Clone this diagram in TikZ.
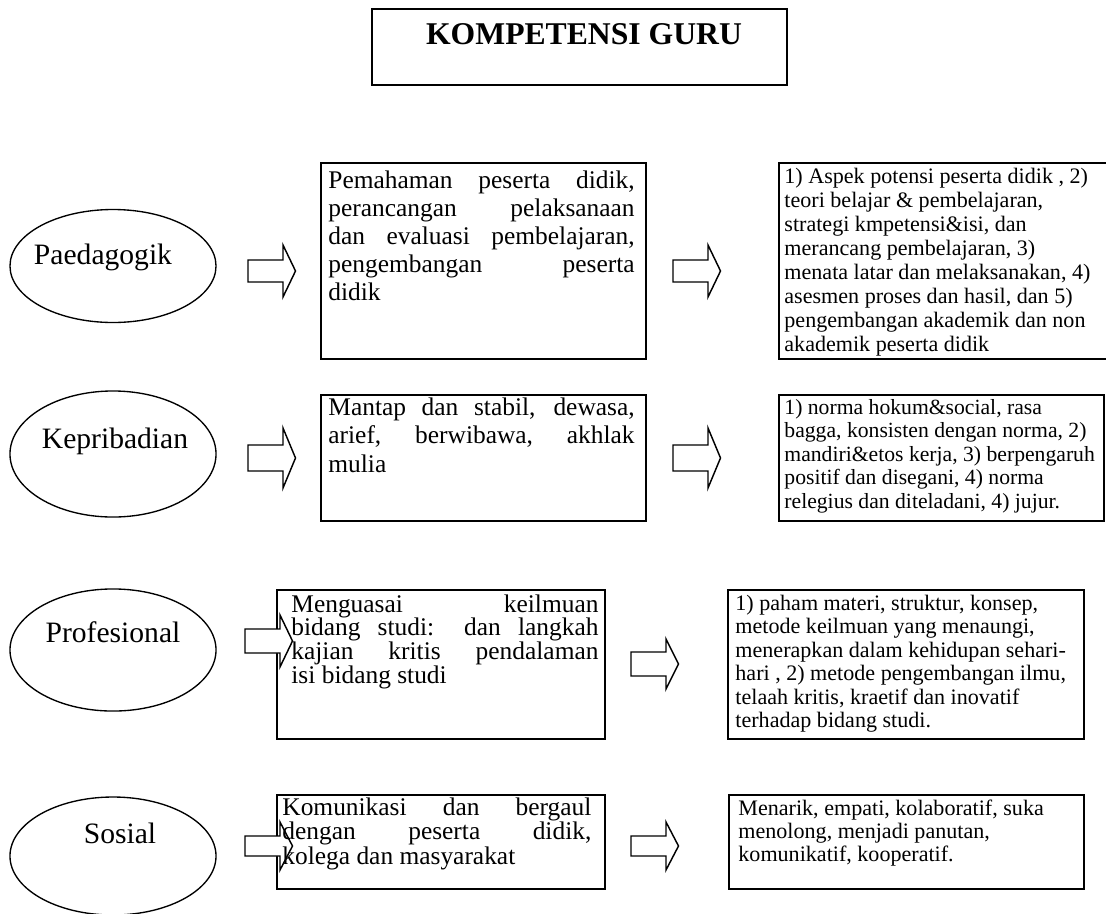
\documentclass[tikz,border=0pt]{standalone}
\usepackage{fontspec}
\setmainfont{Liberation Serif}
\usetikzlibrary{fit,shapes.geometric}

% one justified line of a text block
\newcommand{\jline}[1]{\makebox[\linewidth][s]{#1}\par}
% text block of a middle box: width, line skip, lines
\newcommand{\midblock}[3]{\parbox[t]{#1}{\fontsize{12.2}{#2}\selectfont #3}}
% text block of a right box: font size, line skip, lines
\newcommand{\sideblock}[3]{\parbox[t]{200pt}{\raggedright\fontsize{#1}{#2}\selectfont #3}}

\tikzset{
  frame/.style={draw, line width=1.15pt, inner sep=0pt},
  titleframe/.style={draw, line width=1.35pt, inner sep=0pt},
  oval/.style={draw, ellipse, line width=0.65pt, inner sep=0pt, outer sep=0pt, minimum width=98.9pt},
  ovaltext/.style={anchor=base, inner sep=0pt, font=\fontsize{14.2}{17}\selectfont},
  blocktext/.style={anchor=base west, inner sep=0pt},
  arrowline/.style={draw, fill=white, line width=0.7pt, miter limit=10},
  pics/blockarrow/.style 2 args={code={
    \draw[arrowline] (0,-#1) -- (35,-#1) -- (35,-#2) -- (47.5,0)
      -- (35,#2) -- (35,#1) -- (0,#1) -- cycle;}}
}

\begin{document}
\begin{tikzpicture}[x=0.48pt,y=-0.48pt]
\useasboundingbox (0,0) rectangle (1106,913);
\path[fill=white] (0,0) rectangle (1106,913);

% heading
\node[titleframe, fit={(372,9) (787,85)}] (title) {};
\node[anchor=base, inner sep=0pt, font=\fontsize{15.2}{18}\selectfont\bfseries]
  (titletext) at (584,44) {KOMPETENSI GURU};

% ---------- Paedagogik ----------
\node[oval, minimum height=54.24pt] (e1) at (113,266) {};
\node[ovaltext] (e1t) at (103,264) {Paedagogik};
\node[frame, fit={(321,163) (646,359)}] (m1) {};
\node[frame, fit={(779,163) (1120,359)}] (r1) {};
\pic (a1) at (248,271) {blockarrow={11}{26}};
\pic (a2) at (673,271) {blockarrow={11}{26}};
\node[blocktext] (m1t) at (328,188) {\midblock{147pt}{13.44pt}{%
  \jline{Pemahaman peserta didik,}
  \jline{perancangan pelaksanaan}
  \jline{dan evaluasi pembelajaran,}
  \jline{pengembangan peserta}
  didik}};
\node[blocktext] (r1t) at (784,183) {\sideblock{10.6}{11.52pt}{%
  1) Aspek potensi peserta didik , 2)\\
  teori belajar \& pembelajaran,\\
  strategi kmpetensi\&isi, dan\\
  merancang pembelajaran, 3)\\
  menata latar dan melaksanakan, 4)\\
  asesmen proses dan hasil, dan 5)\\
  pengembangan akademik dan non\\
  akademik peserta didik}};

% ---------- Kepribadian ----------
\node[oval, minimum height=60.5pt] (e2) at (113,454) {};
\node[ovaltext] (e2t) at (115,448) {Kepribadian};
\node[frame, fit={(321,395) (646,521)}] (m2) {};
\node[frame, fit={(779,395) (1104,521)}] (r2) {};
\pic (a3) at (248,458) {blockarrow={13}{30}};
\pic (a4) at (673,458) {blockarrow={13}{30}};
\node[blocktext] (m2t) at (328,415) {\midblock{147pt}{13.68pt}{%
  \jline{Mantap dan stabil, dewasa,}
  \jline{arief, berwibawa, akhlak}
  mulia}};
\node[blocktext] (r2t) at (784,414) {\sideblock{10.4}{11.28pt}{%
  1) norma hokum\&social, rasa\\
  bagga, konsisten dengan norma, 2)\\
  mandiri\&etos kerja, 3) berpengaruh\\
  positif dan disegani, 4) norma\\
  relegius dan diteladani, 4) jujur.}};

% ---------- Profesional ----------
\node[oval, minimum height=58.6pt] (e3) at (113,650) {};
\node[ovaltext] (e3t) at (113,642) {Profesional};
\node[frame, fit={(277,590) (605,739)}] (m3) {};
\node[frame, fit={(728,590) (1084,739)}] (r3) {};
\pic (a5) at (245,641) {blockarrow={12}{26}};
\pic (a6) at (631,664) {blockarrow={12}{25}};
\node[blocktext] (m3t) at (291,612) {\midblock{147.4pt}{11.4pt}{%
  \jline{Menguasai keilmuan}
  \jline{bidang studi: dan langkah}
  \jline{kajian kritis pendalaman}
  isi bidang studi}};
\node[blocktext] (r3t) at (735,610) {\sideblock{10.6}{11.28pt}{%
  1) paham materi, struktur, konsep,\\
  metode keilmuan yang menaungi,\\
  menerapkan dalam kehidupan sehari-\\
  hari , 2) metode pengembangan ilmu,\\
  telaah kritis, kraetif dan inovatif\\
  terhadap bidang studi.}};

% ---------- Sosial ----------
\node[oval, minimum height=56.64pt] (e4) at (113,856) {};
\node[ovaltext] (e4t) at (120,843) {Sosial};
\node[frame, fit={(277,795) (605,889)}] (m4) {};
\node[frame, fit={(729,795) (1084,889)}] (r4) {};
\pic (a7) at (245,846) {blockarrow={10}{24}};
\pic (a8) at (631,846) {blockarrow={10}{24}};
\node[blocktext] (m4t) at (282,815) {\midblock{148.3pt}{11.76pt}{%
  \jline{Komunikasi dan bergaul}
  \jline{dengan peserta didik,}
  kolega dan masyarakat}};
\node[blocktext] (r4t) at (738,815) {\sideblock{10.6}{11.04pt}{%
  Menarik, empati, kolaboratif, suka\\
  menolong, menjadi panutan,\\
  komunikatif, kooperatif.}};
\end{tikzpicture}
\end{document}
